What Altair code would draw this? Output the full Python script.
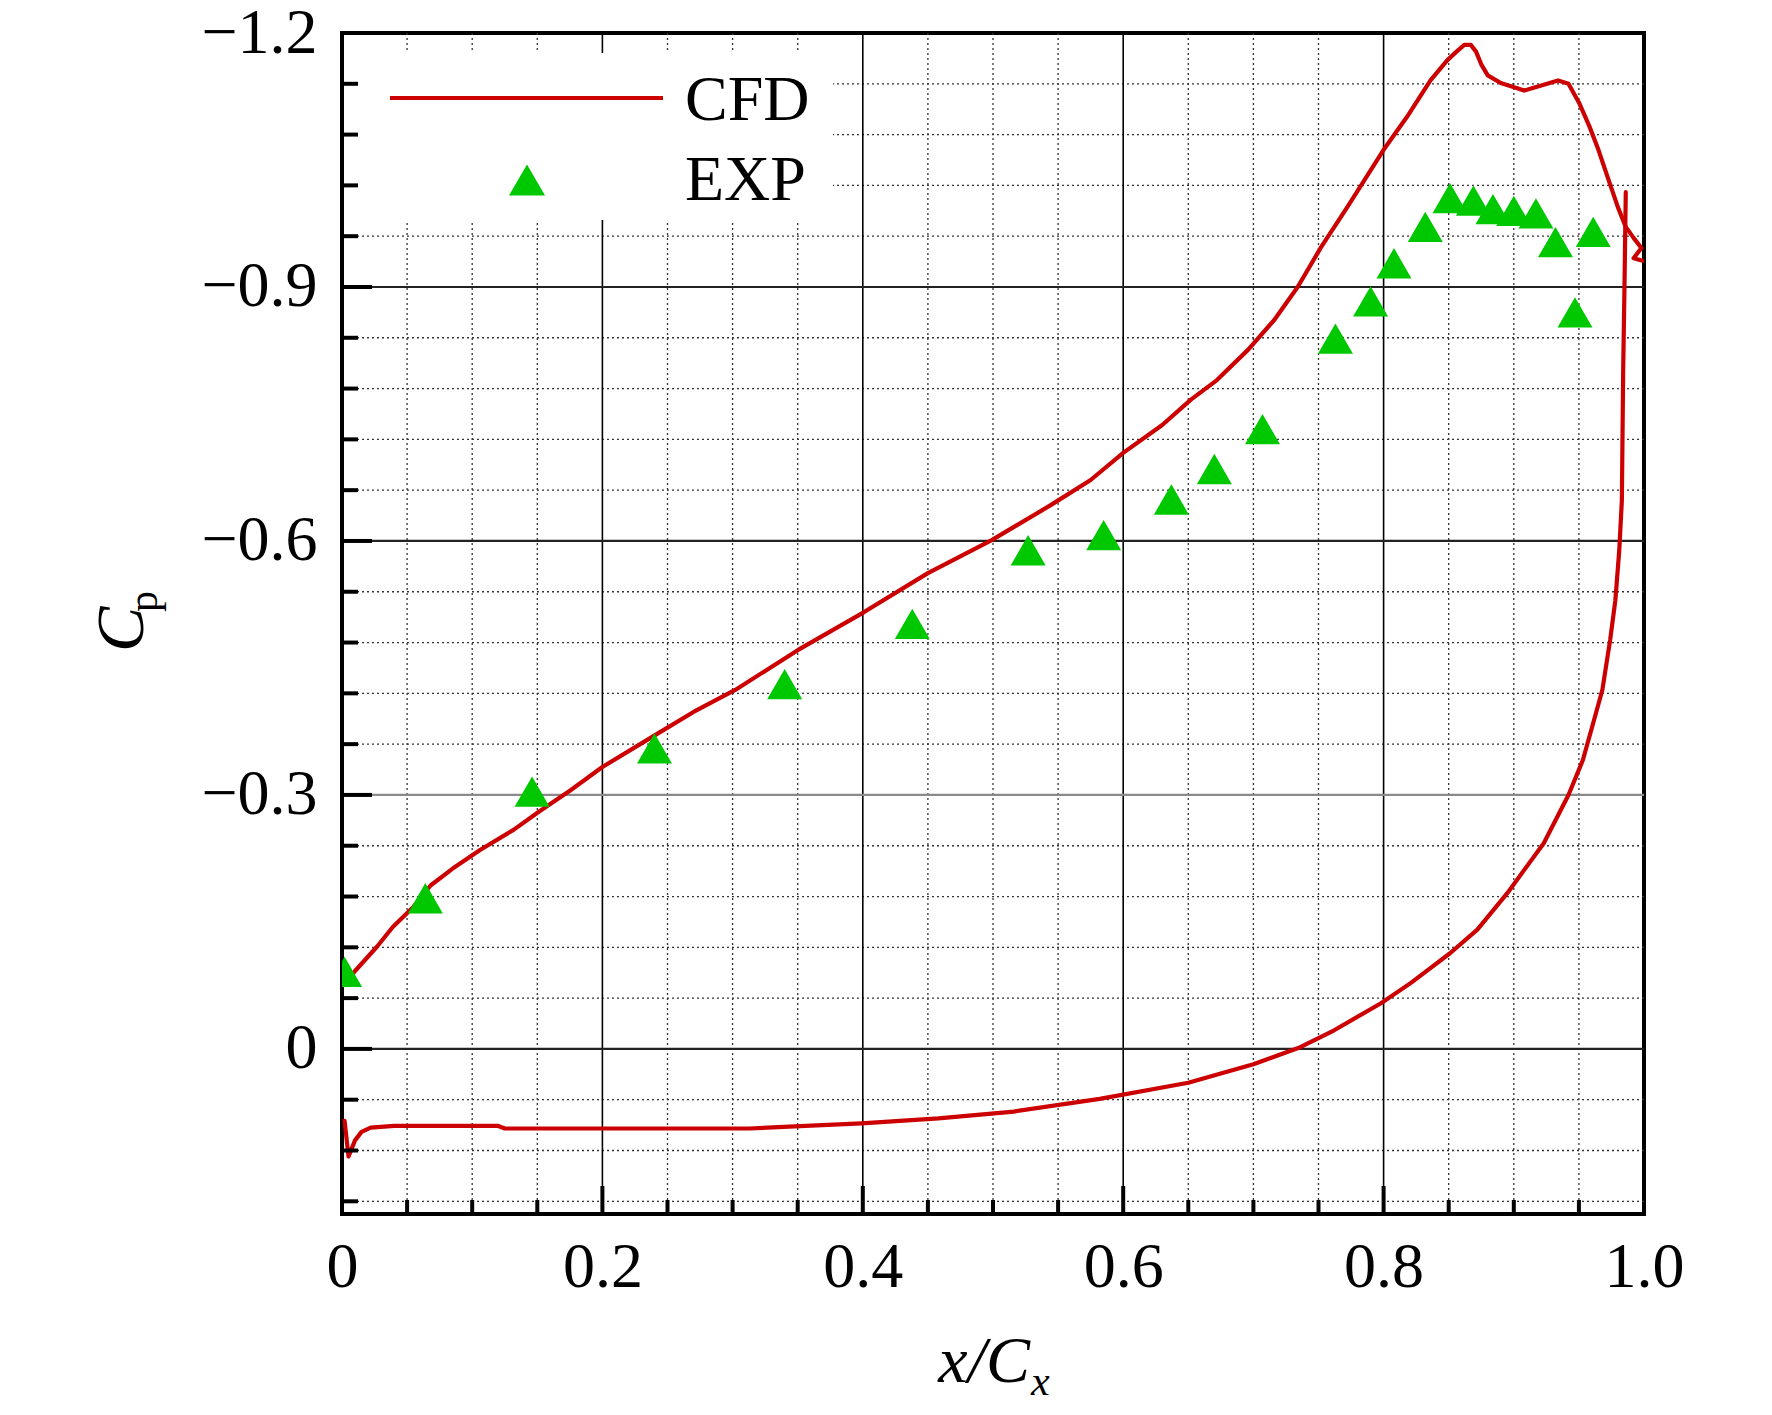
import altair as alt
import pandas as pd

FONT = "Liberation Serif"

# ---- CFD: suction side (upper curve, more negative Cp) ----
ss_x = [0.003, 0.010, 0.027, 0.039, 0.055, 0.068, 0.085, 0.106, 0.132, 0.152,
        0.175, 0.200, 0.243, 0.270, 0.302, 0.350, 0.401, 0.450, 0.499, 0.544,
        0.575, 0.600, 0.630, 0.652, 0.672, 0.696, 0.716, 0.734, 0.752, 0.772,
        0.800, 0.818, 0.836, 0.849, 0.856, 0.862, 0.867, 0.871, 0.875, 0.880,
        0.890, 0.908, 0.923, 0.934, 0.942, 0.950, 0.958, 0.965, 0.972, 0.980,
        0.986, 0.992, 0.998, 0.992, 0.999]
ss_cp = [-0.078, -0.092, -0.121, -0.144, -0.168, -0.193, -0.213, -0.235, -0.259, -0.281,
         -0.305, -0.333, -0.373, -0.398, -0.424, -0.471, -0.516, -0.562, -0.601, -0.642,
         -0.672, -0.704, -0.737, -0.767, -0.790, -0.826, -0.861, -0.900, -0.947, -0.994,
         -1.062, -1.101, -1.144, -1.168, -1.178, -1.186, -1.186, -1.178, -1.163, -1.150,
         -1.141, -1.132, -1.139, -1.144, -1.140, -1.118, -1.090, -1.062, -1.030, -0.994,
         -0.971, -0.958, -0.946, -0.934, -0.931]

# ---- CFD: pressure side (lower curve) ----
ps_x = [0.002, 0.005, 0.010, 0.015, 0.022, 0.040, 0.120, 0.125, 0.200, 0.313,
        0.356, 0.399, 0.458, 0.516, 0.582, 0.650, 0.700, 0.736, 0.762, 0.798,
        0.821, 0.851, 0.872, 0.895, 0.923, 0.942, 0.953, 0.961, 0.968, 0.974,
        0.978, 0.981, 0.983, 0.984, 0.985, 0.986]
ps_cp = [0.085, 0.127, 0.108, 0.098, 0.093, 0.091, 0.091, 0.094, 0.094, 0.094,
         0.091, 0.088, 0.082, 0.074, 0.059, 0.040, 0.018, -0.002, -0.022, -0.054,
         -0.078, -0.113, -0.141, -0.184, -0.243, -0.300, -0.341, -0.385, -0.424, -0.483,
         -0.530, -0.589, -0.648, -0.800, -0.900, -1.012]

# ---- Experiment ----
exp_x = [0.002, 0.064, 0.146, 0.240, 0.340, 0.438, 0.527, 0.585, 0.637, 0.670,
         0.707, 0.763, 0.790, 0.808, 0.832, 0.851, 0.869, 0.884, 0.900, 0.917,
         0.932, 0.947, 0.961]
exp_cp = [-0.091, -0.178, -0.304, -0.355, -0.431, -0.502, -0.589, -0.607, -0.649, -0.685,
          -0.732, -0.839, -0.883, -0.928, -0.971, -1.005, -1.002, -0.992, -0.990, -0.987,
          -0.953, -0.870, -0.965]

# ---- axis ticks / grid positions ----
x_label_values = [0, 0.2, 0.4, 0.6, 0.8, 1.0]
y_label_values = [-1.2, -0.9, -0.6, -0.3, 0]
x_major = [0.2, 0.4, 0.6, 0.8]
x_minor = [0.05, 0.1, 0.15, 0.25, 0.3, 0.35, 0.45, 0.5, 0.55, 0.65, 0.7, 0.75,
           0.85, 0.9, 0.95]
y_major = [-0.9, -0.6, -0.3, 0]
y_minor = [-1.14, -1.08, -1.02, -0.96, -0.84, -0.78, -0.72, -0.66, -0.54, -0.48,
           -0.42, -0.36, -0.24, -0.18, -0.12, -0.06, 0.06, 0.12, 0.18]

W, H = 1302, 1181

cfd = pd.DataFrame({
    "x": ss_x + ps_x,
    "y": ss_cp + ps_cp,
    "side": ["suction"] * len(ss_x) + ["pressure"] * len(ps_x),
    "i": list(range(len(ss_x))) + list(range(len(ps_x))),
})
exp = pd.DataFrame({"x": exp_x, "y": exp_cp})
one = pd.DataFrame({"k": [0]})

xs = alt.Scale(domain=[0, 1], nice=False, zero=False)
ys = alt.Scale(domain=[-1.2, 0.195], nice=False, zero=False, reverse=True)

ax_x = alt.Axis(values=x_label_values, ticks=False, tickSize=0, domain=False, grid=False,
                labelFont=FONT, labelFontSize=64, labelColor="black", labelPadding=21,
                labelFlush=False, labelOverlap=False, labelBound=False,
                labelExpr="datum.value == 0 ? '0' : format(datum.value, '.1f')",
                title=None)
ax_y = alt.Axis(values=y_label_values, ticks=False, tickSize=0, domain=False, grid=False,
                labelFont=FONT, labelFontSize=64, labelColor="black", labelPadding=25,
                labelFlush=False, labelOverlap=False, labelBound=False,
                labelExpr="datum.value == 0 ? '0' : replace(format(datum.value, '.1f'), '-', '\u2212')",
                title=None)


def X():
    return alt.X("x:Q", scale=xs, axis=ax_x)


def Y():
    return alt.Y("y:Q", scale=ys, axis=ax_y)


dot = dict(color="#333333", strokeWidth=1.3, strokeDash=[2, 3])

g_xminor = alt.Chart(pd.DataFrame({"x": x_minor})).mark_rule(**dot).encode(x=X())
g_yminor = alt.Chart(pd.DataFrame({"y": y_minor})).mark_rule(**dot).encode(y=Y())
g_xmajor = alt.Chart(pd.DataFrame({"x": x_major})).mark_rule(color="black", strokeWidth=1.6).encode(x=X())
g_ymajor = alt.Chart(pd.DataFrame({"y": y_major})).mark_rule(strokeWidth=2.2).encode(
    y=Y(),
    color=alt.condition(alt.datum.y == -0.3, alt.value("#8a8a8a"), alt.value("#222222")),
)

legend_bg = alt.Chart(one).mark_rect(color="white").encode(
    x=alt.value(3), x2=alt.value(491), y=alt.value(20), y2=alt.value(187)
)

cfd_line = alt.Chart(cfd).mark_line(color="#cc0000", strokeWidth=4.2, clip=True,
                                     strokeJoin="round", strokeCap="round").encode(
    x=X(), y=Y(), detail="side:N", order="i:Q"
)

exp_pts = alt.Chart(exp).mark_point(shape="triangle-up", filled=True, color="#00c800",
                                     size=1225, opacity=1, clip=True).encode(x=X(), y=Y())

tick_w = 4
t_xmajor = alt.Chart(pd.DataFrame({"x": x_major})).mark_rule(color="black", strokeWidth=tick_w).encode(
    x=X(), y=alt.value(H), y2=alt.value(H - 28))
t_xminor = alt.Chart(pd.DataFrame({"x": x_minor})).mark_rule(color="black", strokeWidth=tick_w).encode(
    x=X(), y=alt.value(H), y2=alt.value(H - 14))
t_ymajor = alt.Chart(pd.DataFrame({"y": y_major})).mark_rule(color="black", strokeWidth=tick_w).encode(
    y=Y(), x=alt.value(0), x2=alt.value(30))
t_yminor = alt.Chart(pd.DataFrame({"y": y_minor})).mark_rule(color="black", strokeWidth=tick_w).encode(
    y=Y(), x=alt.value(0), x2=alt.value(16))

leg_line = alt.Chart(one).mark_rule(color="#cc0000", strokeWidth=4.2).encode(
    x=alt.value(48), x2=alt.value(321), y=alt.value(65))
leg_tri = alt.Chart(one).mark_point(shape="triangle-up", filled=True, color="#00c800",
                                     size=1300, opacity=1).encode(x=alt.value(185), y=alt.value(147))
leg_cfd = alt.Chart(one).mark_text(text="CFD", font=FONT, fontSize=64, align="left",
                                    baseline="alphabetic", color="black").encode(
    x=alt.value(343), y=alt.value(87))
leg_exp = alt.Chart(one).mark_text(text="EXP", font=FONT, fontSize=64, align="left",
                                    baseline="alphabetic", color="black").encode(
    x=alt.value(343), y=alt.value(167))

xt_main = alt.Chart(one).mark_text(text="x/C", font=FONT, fontStyle="italic", fontSize=66,
                                    align="right", baseline="alphabetic", color="black").encode(
    x=alt.value(688), y=alt.value(1349))
xt_sub = alt.Chart(one).mark_text(text="x", font=FONT, fontStyle="italic", fontSize=42,
                                   align="left", baseline="alphabetic", color="black").encode(
    x=alt.value(689), y=alt.value(1362))
yt_main = alt.Chart(one).mark_text(text="C", font=FONT, fontStyle="italic", fontSize=68,
                                    angle=270, align="left", baseline="alphabetic", color="black").encode(
    x=alt.value(-199), y=alt.value(619))
yt_sub = alt.Chart(one).mark_text(text="p", font=FONT, fontSize=42,
                                   angle=270, align="left", baseline="alphabetic", color="black").encode(
    x=alt.value(-185), y=alt.value(579))

chart = alt.layer(
    g_xminor, g_yminor, g_xmajor, g_ymajor, legend_bg,
    cfd_line, exp_pts,
    t_xmajor, t_xminor, t_ymajor, t_yminor,
    leg_line, leg_tri, leg_cfd, leg_exp,
    xt_main, xt_sub, yt_main, yt_sub,
).properties(
    width=W, height=H,
    padding={"left": 334, "top": 25, "right": 120, "bottom": 198},
    autosize=alt.AutoSizeParams(type="none"),
    background="white",
).configure_view(stroke="black", strokeWidth=4)

chart.save("out.html", embed_options={"renderer": "svg", "actions": False})
